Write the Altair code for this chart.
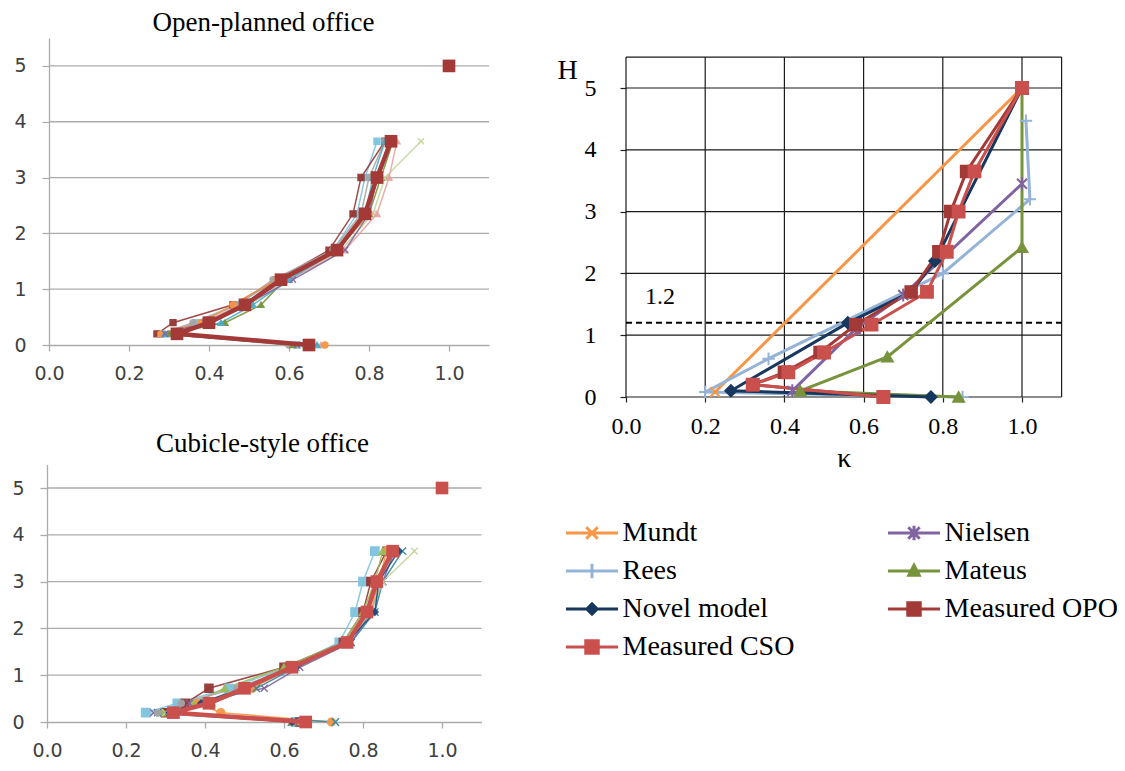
import altair as alt
import pandas as pd

# ---------------- data ----------------
H_LEVELS = [0.0, 0.2, 0.4, 0.72, 1.17, 1.7, 2.35, 3.0, 3.65]

# Open-planned office: individual measured profiles (kappa at each height)
OPO_NAMES = ["O1", "O2", "O3", "O4", "O5", "O6", "O7", "O8", "O9"]
OPO_COLORS = ["#7EC4DE", "#953735", "#A5A5A5", "#77933C", "#C3D69B",
              "#E6A5A3", "#F79646", "#4BACC6", "#8064A2"]
OPO_SHAPES = ["square", "square", "circle", "triangle-up", "M-1,-1L1,1M-1,1L1,-1",
              "triangle-up", "circle", "triangle-up", "M-1,-1L1,1M-1,1L1,-1"]
OPO_K = [
    [0.62, 0.28, 0.37, 0.47, 0.57, 0.71, 0.77, 0.79, 0.82],
    [0.65, 0.27, 0.31, 0.46, 0.57, 0.70, 0.76, 0.78, 0.84],
    [0.60, 0.28, 0.36, 0.47, 0.56, 0.71, 0.78, 0.80, 0.84],
    [0.61, 0.30, 0.44, 0.53, 0.59, 0.72, 0.80, 0.83, 0.86],
    [0.64, 0.29, 0.40, 0.50, 0.60, 0.73, 0.81, 0.84, 0.93],
    [0.68, 0.28, 0.38, 0.48, 0.60, 0.74, 0.82, 0.85, 0.87],
    [0.69, 0.28, 0.38, 0.46, 0.57, 0.72, 0.80, 0.82, 0.86],
    [0.67, 0.29, 0.43, 0.51, 0.60, 0.72, 0.79, 0.81, 0.84],
    [0.62, 0.29, 0.39, 0.49, 0.61, 0.74, 0.80, 0.82, 0.85],
]
OPO_MEAN_K = [0.65, 0.32, 0.40, 0.49, 0.58, 0.72, 0.79, 0.82, 0.855]
OPO_TOP_K = [1.0]
OPO_TOP_H = [5.0]

# Cubicle-style office
CSO_NAMES = ["C1", "C2", "C3", "C4", "C5", "C6", "C7", "C8", "C9"]
CSO_COLORS = ["#7EC4DE", "#953735", "#F79646", "#9BBB59", "#31859C",
              "#8064A2", "#C3D69B", "#1F497D", "#A5A5A5"]
CSO_SHAPES = ["square", "square", "circle", "triangle-up", "M-1,-1L1,1M-1,1L1,-1",
              "M-1,-1L1,1M-1,1L1,-1", "M-1,-1L1,1M-1,1L1,-1", "diamond", "circle"]
CSO_K = [
    [0.63, 0.25, 0.33, 0.46, 0.61, 0.74, 0.78, 0.80, 0.83],
    [0.64, 0.30, 0.35, 0.41, 0.60, 0.75, 0.80, 0.82, 0.86],
    [0.72, 0.44, 0.38, 0.52, 0.62, 0.76, 0.82, 0.84, 0.86],
    [0.62, 0.29, 0.37, 0.45, 0.60, 0.75, 0.80, 0.83, 0.85],
    [0.73, 0.28, 0.40, 0.53, 0.63, 0.77, 0.83, 0.85, 0.90],
    [0.62, 0.27, 0.36, 0.55, 0.64, 0.77, 0.82, 0.85, 0.88],
    [0.66, 0.30, 0.42, 0.50, 0.62, 0.76, 0.82, 0.85, 0.93],
    [0.62, 0.31, 0.39, 0.49, 0.63, 0.76, 0.83, 0.84, 0.89],
    [0.64, 0.28, 0.34, 0.48, 0.62, 0.76, 0.81, 0.84, 0.87],
]
CSO_MEAN_K = [0.655, 0.32, 0.41, 0.50, 0.62, 0.76, 0.81, 0.835, 0.875]
CSO_TOP_K = [1.0]
CSO_TOP_H = [5.0]

# Right panel: models vs measurements
MODEL_NAMES = ["Mundt", "Nielsen", "Rees", "Mateus", "Novel model",
               "Measured OPO", "Measured CSO"]
MODEL_COLORS = ["#F79646", "#8064A2", "#95B3D7", "#77933C", "#17375E",
                "#A33A37", "#C9504D"]
MUNDT_K = [0.225, 1.0]
MUNDT_H = [0.08, 5.0]
NIELSEN_K = [0.42, 0.58, 0.70, 1.0]
NIELSEN_H = [0.1, 1.1, 1.65, 3.45]
REES_K = [0.85, 0.20, 0.36, 0.80, 1.02, 1.01]
REES_H = [0.0, 0.08, 0.62, 2.0, 3.2, 4.47]
MATEUS_K = [0.84, 0.44, 0.66, 1.0, 1.0]
MATEUS_H = [0.0, 0.1, 0.65, 2.42, 5.0]
NOVEL_K = [0.77, 0.265, 0.56, 0.72, 0.78, 1.0]
NOVEL_H = [0.0, 0.1, 1.2, 1.7, 2.2, 5.0]
MEAS_H = [0.0, 0.2, 0.4, 0.72, 1.17, 1.7, 2.35, 3.0, 3.65, 5.0]
MEAS_OPO_K = [0.65, 0.32, 0.40, 0.49, 0.58, 0.72, 0.79, 0.82, 0.86, 1.0]
MEAS_CSO_K = [0.65, 0.32, 0.41, 0.50, 0.62, 0.76, 0.81, 0.84, 0.88, 1.0]

# legend order (filled column by column -> rows read Mundt/Nielsen, Rees/Mateus, ...)
LEGEND_ORDER = ["Mundt", "Rees", "Novel model", "Measured CSO",
                "Nielsen", "Mateus", "Measured OPO"]

REF_H = [1.2]
REF_LABEL = ["1.2"]
REF_LABEL_K = [0.086]
REF_LABEL_H = [1.62]

X_TICKS = [0.0, 0.2, 0.4, 0.6, 0.8, 1.0]
Y_TICKS = [0, 1, 2, 3, 4, 5]
X_MAX = 1.1
Y_MAX = 5.5

# ---------------- helpers ----------------
SERIF = "Liberation Serif, Times New Roman, serif"
SANS = "DejaVu Sans, sans-serif"
GRAY = "#ABABAB"

X_PATH = "M-1,-1L1,1M-1,1L1,-1"
STAR_PATH = "M-1,-1L1,1M-1,1L1,-1M0,-1.3V1.3"
PLUS_PATH = "M-1.2,0H1.2M0,-1.2V1.2"
MODEL_MARKERS = [X_PATH, STAR_PATH, PLUS_PATH, "triangle-up", "diamond", "square", "square"]
MODEL_SIZES = [90, 140, 220, 160, 120, 260, 260]
MODEL_WIDTHS = [3, 3, 3, 3.5, 3.5, 5, 5]
LEGEND_PATHS = [
    "M-1,0H1M-0.22,-0.22L0.22,0.22M-0.22,0.22L0.22,-0.22",
    "M-1,0H1M-0.22,-0.22L0.22,0.22M-0.22,0.22L0.22,-0.22M0,-0.28V0.28",
    "M-1,0H1M0,-0.28V0.28",
    "M-1,0H1M-0.2,0.16L0,-0.22L0.2,0.16Z",
    "M-1,0H1M-0.2,0L0,-0.2L0.2,0L0,0.2Z",
    "M-1,0H1M-0.24,-0.24H0.24V0.24H-0.24Z",
    "M-1,0H1M-0.24,-0.24H0.24V0.24H-0.24Z",
]
LEG_COLORS = [MODEL_COLORS[MODEL_NAMES.index(n)] for n in LEGEND_ORDER]
LEG_PATHS = [LEGEND_PATHS[MODEL_NAMES.index(n)] for n in LEGEND_ORDER]

W, HGT = 1109, 755
# pixel ranges of each panel inside the single canvas
X_TL = [41, 481]
Y_TL = [337, 30]
X_BL = [39, 473.5]
Y_BL = [714, 456.6]
X_R = [618, 1053.6]
Y_R = [389, 49.1]


def xs(rng):
    return alt.Scale(domain=[0, X_MAX], range=rng, nice=False, zero=False)


def ys(rng):
    return alt.Scale(domain=[0, Y_MAX], range=rng, nice=False, zero=False)


def profiles(names, values):
    rows = []
    for n, ks in zip(names, values):
        for i, (k, h) in enumerate(zip(ks, H_LEVELS)):
            rows.append({"series": n, "k": k, "h": h, "i": i})
    return pd.DataFrame(rows)


def single(ks, hs, name):
    return pd.DataFrame({"series": name, "k": ks, "h": hs, "i": list(range(len(ks)))})


def hgrid(levels, k0, k1):
    return pd.DataFrame({"h": levels, "k0": [k0] * len(levels), "k1": [k1] * len(levels)})


def vgrid(levels, h0, h1):
    return pd.DataFrame({"k": levels, "h0": [h0] * len(levels), "h1": [h1] * len(levels)})


def left_axes(xr, yr):
    xa = alt.Axis(values=X_TICKS, format=".1f", orient="bottom", offset=yr[0] - HGT,
                  grid=False, domainColor=GRAY, domainWidth=1.3, tickColor=GRAY,
                  tickWidth=1.3, tickSize=6, labelFont=SANS, labelFontSize=19,
                  labelColor="#404040", labelPadding=13, labelOverlap=False,
                  labelFlush=False, title=None)
    ya = alt.Axis(values=Y_TICKS, format="d", orient="left", offset=-xr[0],
                  grid=False, domainColor=GRAY, domainWidth=1.3, tickColor=GRAY,
                  tickWidth=1.3, tickSize=7, labelFont=SANS, labelFontSize=19,
                  labelColor="#404040", labelPadding=16, labelOverlap=False,
                  labelFlush=False, title=None)
    return xa, ya


def title_axis(text, tx, ty):
    return alt.Axis(orient="top", offset=0, domain=False, ticks=False, labels=False,
                    grid=False, title=text, titleFont=SERIF, titleFontSize=27,
                    titleFontWeight="normal", titleColor="black", titleX=tx,
                    titleY=ty, titleAlign="center", titleBaseline="middle")


def left_panel(names, colors, shapes, values, mean_k, top_k, top_h, mean_color,
               xr, yr, title, tx, ty, big_first):
    layers = []
    xa, ya = left_axes(xr, yr)
    g = alt.Chart(hgrid([1, 2, 3, 4, 5], 0, X_MAX)).mark_rule(
        color=GRAY, strokeWidth=1.3).encode(
        x=alt.X("k0:Q", scale=xs(xr), axis=xa),
        x2="k1:Q",
        y=alt.Y("h:Q", scale=ys(yr), axis=ya),
    )
    layers.append(g)
    df = profiles(names, values)
    col = alt.Scale(domain=names, range=colors)
    lines = alt.Chart(df).mark_line(strokeWidth=1.5, opacity=0.9).encode(
        x=alt.X("k:Q", scale=xs(xr), axis=title_axis(title, tx, ty)),
        y=alt.Y("h:Q", scale=ys(yr), axis=None),
        color=alt.Color("series:N", scale=col, legend=None),
        order="i:Q",
    )
    layers.append(lines)
    sizes = [70 if big_first and j == 0 else 36 for j in range(len(names))]
    pts = alt.Chart(df).mark_point(filled=True, opacity=0.95, strokeWidth=1.4).encode(
        x=alt.X("k:Q", scale=xs(xr), axis=None),
        y=alt.Y("h:Q", scale=ys(yr), axis=None),
        fill=alt.Fill("series:N", scale=col, legend=None),
        stroke=alt.Stroke("series:N", scale=col, legend=None),
        shape=alt.Shape("series:N", scale=alt.Scale(domain=names, range=shapes), legend=None),
        size=alt.Size("series:N", scale=alt.Scale(domain=names, range=sizes), legend=None),
    )
    layers.append(pts)
    mdf = single(mean_k, H_LEVELS, "mean")
    mline = alt.Chart(mdf).mark_line(color=mean_color, strokeWidth=4.5).encode(
        x=alt.X("k:Q", scale=xs(xr), axis=None),
        y=alt.Y("h:Q", scale=ys(yr), axis=None),
        order="i:Q",
    )
    mpts = alt.Chart(mdf).mark_point(filled=True, shape="square", size=160,
                                     color=mean_color, opacity=1).encode(
        x=alt.X("k:Q", scale=xs(xr), axis=None),
        y=alt.Y("h:Q", scale=ys(yr), axis=None),
    )
    tpts = alt.Chart(single(top_k, top_h, "top")).mark_point(
        filled=True, shape="square", size=160, color=mean_color, opacity=1).encode(
        x=alt.X("k:Q", scale=xs(xr), axis=None),
        y=alt.Y("h:Q", scale=ys(yr), axis=None),
    )
    layers += [mline, mpts, tpts]
    return layers


layers = []
layers += left_panel(OPO_NAMES, OPO_COLORS, OPO_SHAPES, OPO_K, OPO_MEAN_K,
                     OPO_TOP_K, OPO_TOP_H, "#A33A37", X_TL, Y_TL,
                     "Open-planned office", 255, 14, False)
layers += left_panel(CSO_NAMES, CSO_COLORS, CSO_SHAPES, CSO_K, CSO_MEAN_K,
                     CSO_TOP_K, CSO_TOP_H, "#C9504D", X_BL, Y_BL,
                     "Cubicle-style office", 254, 435, True)

# ---------------- right panel ----------------
rx_axis = alt.Axis(values=X_TICKS, format=".1f", orient="bottom", offset=Y_R[0] - HGT,
                   grid=False, domain=False, tickColor="#222222", tickWidth=1.2,
                   tickSize=5, labelFont=SERIF, labelFontSize=24, labelColor="black",
                   labelPadding=12, labelOverlap=False, labelFlush=False,
                   title="κ", titleFont=SERIF, titleFontSize=28,
                   titleFontWeight="normal", titleColor="black", titlePadding=6)
ry_axis = alt.Axis(values=Y_TICKS, format="d", orient="left", offset=-X_R[0],
                   grid=False, domain=False, tickColor="#222222", tickWidth=1.2,
                   tickSize=6, labelFont=SERIF, labelFontSize=24, labelColor="black",
                   labelPadding=24, labelOverlap=False, labelFlush=False,
                   title="H", titleFont=SERIF, titleFontSize=28,
                   titleFontWeight="normal", titleColor="black", titleAngle=0,
                   titleX=-59, titleY=62, titleAlign="center", titleBaseline="middle")

rgh = alt.Chart(hgrid([0, 1, 2, 3, 4, 5, Y_MAX], 0, X_MAX)).mark_rule(
    color="#1A1A1A", strokeWidth=1.2).encode(
    x=alt.X("k0:Q", scale=xs(X_R), axis=rx_axis),
    x2="k1:Q",
    y=alt.Y("h:Q", scale=ys(Y_R), axis=ry_axis),
)
rgv = alt.Chart(vgrid(X_TICKS + [X_MAX], 0, Y_MAX)).mark_rule(
    color="#1A1A1A", strokeWidth=1.2).encode(
    x=alt.X("k:Q", scale=xs(X_R), axis=None),
    y=alt.Y("h0:Q", scale=ys(Y_R), axis=None),
    y2="h1:Q",
)
ref = alt.Chart(hgrid(REF_H, 0, X_MAX)).mark_rule(
    color="black", strokeWidth=2, strokeDash=[6, 4]).encode(
    x=alt.X("k0:Q", scale=xs(X_R), axis=None),
    x2="k1:Q",
    y=alt.Y("h:Q", scale=ys(Y_R), axis=None),
)
ref_txt = alt.Chart(pd.DataFrame({"k": REF_LABEL_K, "h": REF_LABEL_H, "t": REF_LABEL})).mark_text(
    font=SERIF, fontSize=24, color="black", align="center", baseline="middle").encode(
    x=alt.X("k:Q", scale=xs(X_R), axis=None),
    y=alt.Y("h:Q", scale=ys(Y_R), axis=None),
    text="t:N",
)

rdf = pd.concat([
    single(MUNDT_K, MUNDT_H, "Mundt"),
    single(NIELSEN_K, NIELSEN_H, "Nielsen"),
    single(REES_K, REES_H, "Rees"),
    single(MATEUS_K, MATEUS_H, "Mateus"),
    single(NOVEL_K, NOVEL_H, "Novel model"),
    single(MEAS_OPO_K, MEAS_H, "Measured OPO"),
    single(MEAS_CSO_K, MEAS_H, "Measured CSO"),
], ignore_index=True)

mcol = alt.Scale(domain=MODEL_NAMES, range=MODEL_COLORS)
rlines = alt.Chart(rdf).mark_line().encode(
    x=alt.X("k:Q", scale=xs(X_R), axis=None),
    y=alt.Y("h:Q", scale=ys(Y_R), axis=None),
    color=alt.Color("series:N", scale=mcol, legend=None),
    strokeWidth=alt.StrokeWidth("series:N", scale=alt.Scale(domain=MODEL_NAMES, range=MODEL_WIDTHS), legend=None),
    order="i:Q",
)
rpts = alt.Chart(rdf).mark_point(filled=True, opacity=1, strokeWidth=2).encode(
    x=alt.X("k:Q", scale=xs(X_R), axis=None),
    y=alt.Y("h:Q", scale=ys(Y_R), axis=None),
    fill=alt.Fill("series:N", scale=mcol, legend=None),
    stroke=alt.Stroke("series:N", scale=mcol, legend=None),
    shape=alt.Shape("series:N", scale=alt.Scale(domain=MODEL_NAMES, range=MODEL_MARKERS), legend=None),
    size=alt.Size("series:N", scale=alt.Scale(domain=MODEL_NAMES, range=MODEL_SIZES), legend=None),
)

leg = dict(orient="none", legendX=556.5, legendY=511, columns=2, columnPadding=92,
           rowPadding=10, labelFont=SERIF, labelFontSize=28, labelColor="black",
           labelOffset=3, labelLimit=400, symbolSize=2704, symbolStrokeWidth=3,
           symbolOpacity=1, clipHeight=28, padding=0, title=None)
lcol = alt.Scale(domain=LEGEND_ORDER, range=LEG_COLORS)
rlegend = alt.Chart(rdf).mark_point(filled=True, opacity=1, strokeWidth=3).encode(
    fill=alt.Fill("series:N", scale=lcol, legend=alt.Legend(**leg)),
    stroke=alt.Stroke("series:N", scale=lcol, legend=alt.Legend(**leg)),
    shape=alt.Shape("series:N", scale=alt.Scale(domain=LEGEND_ORDER, range=LEG_PATHS),
                    legend=alt.Legend(**leg)),
).transform_filter("false")

layers += [rgh, rgv, ref, ref_txt, rlines, rpts, rlegend]

chart = alt.layer(*layers).resolve_scale(
    x="independent", y="independent", color="independent", fill="independent",
    stroke="independent", shape="independent", size="independent",
    strokeWidth="independent",
).resolve_axis(x="independent", y="independent").resolve_legend(
    fill="independent", stroke="independent", shape="independent",
).properties(
    width=W, height=HGT, autosize=alt.AutoSizeParams(type="none"), padding=0,
    background="white",
).configure(font=SERIF).configure_view(strokeWidth=0)

chart.save("out.html", embed_options={"renderer": "svg", "actions": False})
